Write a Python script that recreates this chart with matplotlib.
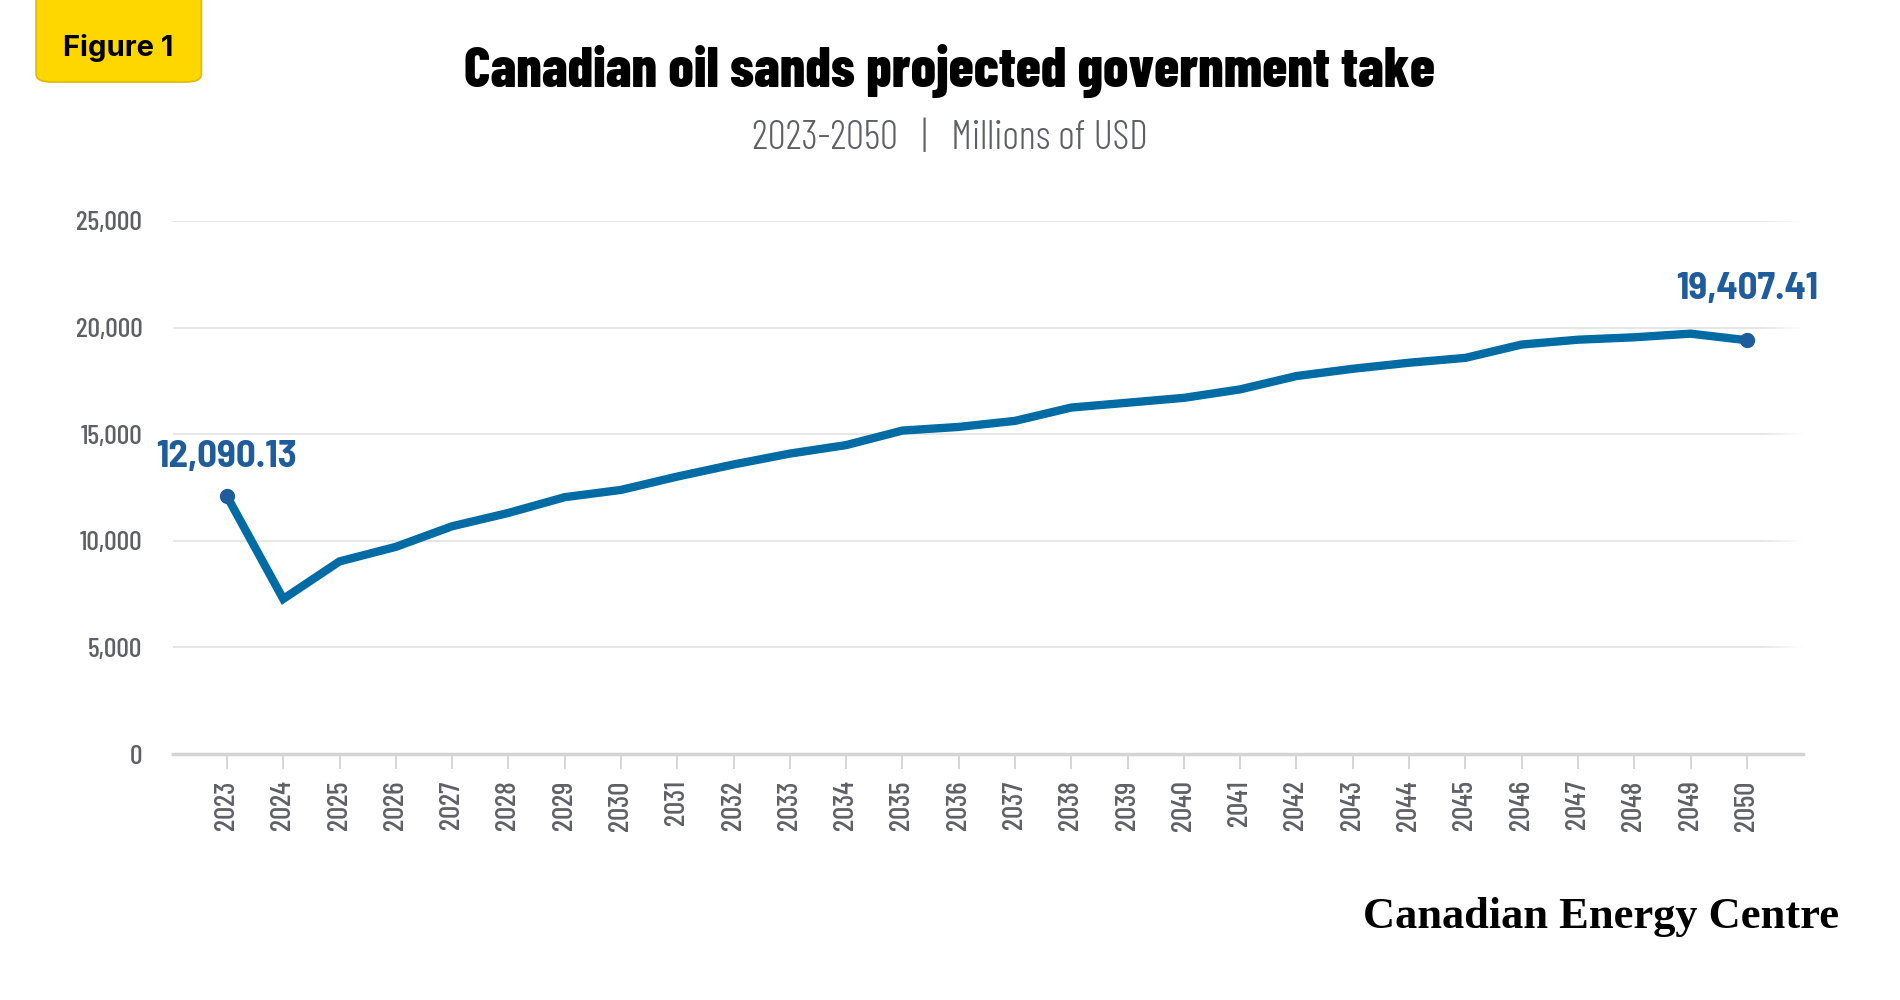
import numpy as np
import matplotlib.pyplot as plt
from matplotlib.patches import FancyBboxPatch
from matplotlib.ticker import FuncFormatter

years = list(range(2023, 2051))
gov_take = [12090.13, 7273, 9034, 9716, 10682, 11307, 12046, 12387, 13012, 13580,
            14091, 14489, 15170, 15341, 15625, 16250, 16477, 16705, 17103, 17728,
            18068, 18352, 18580, 19205, 19432, 19545, 19716, 19407.41]
y_ticks = [0, 5000, 10000, 15000, 20000, 25000]

title = "Canadian oil sands projected government take"
subtitle = "2023-2050   |   Millions of USD"

line_col = "#006ca3"
dot_col = "#1f5c9c"
grey = "#5f6066"
cond = "Barlow Condensed"

fig = plt.figure(figsize=(19, 10), dpi=100)
ax = fig.add_axes([0.091, 0.246, 0.858, 0.533])

ax.plot(years, gov_take, color=line_col, lw=6, solid_joinstyle="miter", zorder=3)
ax.plot([years[0], years[-1]], [gov_take[0], gov_take[-1]], "o", color=dot_col,
        ms=10, zorder=4)

ax.annotate("{:,.2f}".format(gov_take[0]), (years[0], gov_take[0]), xytext=(0, 16),
            textcoords="offset points", ha="center", va="bottom", color=dot_col,
            fontsize=28, fontweight="bold", family="Barlow Semi Condensed")
ax.annotate("{:,.2f}".format(gov_take[-1]), (years[-1], gov_take[-1]), xytext=(0, 25),
            textcoords="offset points", ha="center", va="bottom", color=dot_col,
            fontsize=28, fontweight="bold", family="Barlow Semi Condensed")

# gridlines fade out on the right
fade = np.ones((1, 60, 4))
fade[0, :, 3] = np.linspace(0, 1, 60)
ax.imshow(fade, extent=(2050.25, 2051.0, 200, 25200), aspect="auto", zorder=2)

ax.set_xlim(2022.04, 2051.0)
ax.set_ylim(0, 25000)
ax.set_yticks(y_ticks)
ax.yaxis.set_major_formatter(FuncFormatter(lambda v, p: "{:,.0f}".format(v)))
ax.set_xticks(years)
ax.set_xticklabels([str(y) for y in years], rotation=90)

for s in ["top", "right", "left"]:
    ax.spines[s].set_visible(False)
ax.spines["bottom"].set_color("#d4d4d4")
ax.spines["bottom"].set_linewidth(2.5)
ax.grid(axis="y", color="#e2e2e2", lw=1.2)
ax.set_axisbelow(True)

ax.tick_params(axis="y", length=0, pad=22, labelsize=20, labelcolor=grey)
ax.tick_params(axis="x", length=11, width=1.2, color="#cfcfcf", pad=8,
               labelsize=21, labelcolor=grey)
for lab in ax.get_xticklabels() + ax.get_yticklabels():
    lab.set_family(cond)
    lab.set_fontweight(500)

# yellow figure tag in the top-left corner
tag = FancyBboxPatch((0.019, 0.918), 0.087, 0.1, boxstyle="round,pad=0,rounding_size=0.008",
                     transform=fig.transFigure, facecolor="#ffd700", edgecolor="#e0b800",
                     lw=1.2, clip_on=False)
fig.patches.append(tag)
fig.text(0.062, 0.952, "Figure 1", ha="center", va="center", fontsize=21,
         fontweight="bold", family="Inter")

fig.text(0.5, 0.929, title, ha="center", va="center", fontsize=40.5,
         fontweight=800, family=cond)
fig.text(0.5, 0.861, subtitle, ha="center", va="center", fontsize=29,
         fontweight=300, color=grey, family=cond)
fig.text(0.968, 0.083, "Canadian Energy Centre", ha="right", va="center",
         fontsize=32, fontweight="bold", family="Liberation Serif")

fig.savefig("out.png", dpi=100, facecolor="white")
